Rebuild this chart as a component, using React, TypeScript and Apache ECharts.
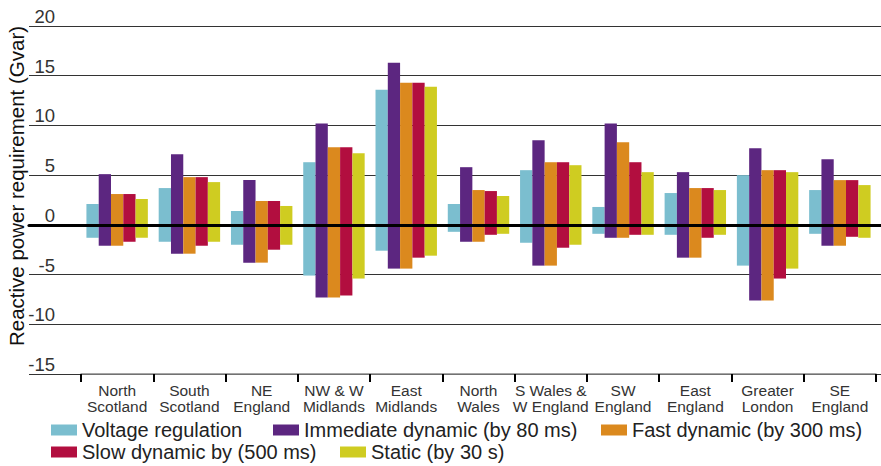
import React, { useEffect, useRef } from "react";
import * as echarts from "echarts";

const regions = [
  "North\nScotland",
  "South\nScotland",
  "NE\nEngland",
  "NW & W\nMidlands",
  "East\nMidlands",
  "North\nWales",
  "S Wales &\nW England",
  "SW\nEngland",
  "East\nEngland",
  "Greater\nLondon",
  "SE\nEngland",
];

const seriesNames = [
  "Voltage regulation",
  "Immediate dynamic (by 80 ms)",
  "Fast dynamic (by 300 ms)",
  "Slow dynamic by (500 ms)",
  "Static (by 30 s)",
];

const seriesColors = ["#7BBECF", "#5C2680", "#DB891E", "#B20E3F", "#CFCC21"];

const voltagePos = [2.1, 3.7, 1.4, 6.3, 13.6, 2.1, 5.5, 1.8, 3.2, 5.0, 3.5];
const voltageNeg = [-1.3, -1.7, -2.0, -5.1, -2.6, -0.7, -1.8, -0.9, -1.0, -4.1, -0.9];
const immediatePos = [5.1, 7.1, 4.5, 10.2, 16.3, 5.8, 8.5, 10.2, 5.3, 7.7, 6.6];
const immediateNeg = [-2.1, -2.9, -3.8, -7.3, -4.4, -1.7, -4.1, -1.3, -3.3, -7.6, -2.1];
const fastPos = [3.1, 4.8, 2.4, 7.8, 14.3, 3.5, 6.3, 8.3, 3.7, 5.5, 4.5];
const fastNeg = [-2.1, -2.9, -3.8, -7.3, -4.4, -1.7, -4.1, -1.3, -3.3, -7.6, -2.1];
const slowPos = [3.1, 4.8, 2.4, 7.8, 14.3, 3.4, 6.3, 6.3, 3.7, 5.5, 4.5];
const slowNeg = [-1.7, -2.1, -2.5, -7.1, -3.3, -1.0, -2.3, -1.0, -1.3, -5.4, -1.2];
const staticPos = [2.6, 4.3, 1.9, 7.2, 13.9, 2.9, 6.0, 5.3, 3.5, 5.3, 4.0];
const staticNeg = [-1.3, -1.7, -2.0, -5.4, -3.1, -0.9, -2.0, -1.0, -1.0, -4.4, -1.3];

const positives = [voltagePos, immediatePos, fastPos, slowPos, staticPos];
const negatives = [voltageNeg, immediateNeg, fastNeg, slowNeg, staticNeg];

const yMin = -15;
const yMax = 20;
const yStep = 5;

const FONT = "'Liberation Sans', Arial, sans-serif";

export default function App() {
  const ref = useRef<HTMLDivElement>(null);

  useEffect(() => {
    if (!ref.current) return;
    const chart = echarts.init(ref.current, null, { renderer: "svg" });

    const series: any[] = [];
    seriesNames.forEach((name, i) => {
      series.push({
        name,
        type: "bar",
        xAxisIndex: 1,
        yAxisIndex: 1,
        stack: "s" + i,
        data: positives[i],
        itemStyle: { color: seriesColors[i] },
        barCategoryGap: "15%",
        barGap: "0%",
      });
      series.push({
        name,
        type: "bar",
        xAxisIndex: 1,
        yAxisIndex: 1,
        stack: "s" + i,
        data: negatives[i],
        itemStyle: { color: seriesColors[i] },
        barCategoryGap: "15%",
        barGap: "0%",
      });
    });

    const legendLeft = [51, 273, 601, 51, 340];
    const legendTop = [420, 420, 420, 442, 442];
    const legends = seriesNames.map((name, i) => ({
      data: [name],
      left: legendLeft[i],
      top: legendTop[i],
      padding: 0,
      icon: "rect",
      itemWidth: 26,
      itemHeight: 11,
      itemGap: 0,
      textStyle: { fontSize: 20, color: "#222", fontFamily: FONT },
      selectedMode: false,
    }));

    chart.setOption({
      animation: false,
      backgroundColor: "#ffffff",
      textStyle: { fontFamily: FONT },
      grid: [
        { left: 29, right: 0, top: 26, bottom: 92 },
        { left: 81, right: 5, top: 26, bottom: 92 },
      ],
      legend: legends,
      xAxis: [
        {
          type: "value",
          gridIndex: 0,
          min: 0,
          max: 1,
          z: 10,
          axisLine: { show: true, onZero: true, lineStyle: { color: "#000", width: 3.2 } },
          axisTick: { show: false },
          axisLabel: { show: false },
          splitLine: { show: false },
        },
        {
          type: "category",
          gridIndex: 1,
          data: regions,
          axisLine: { show: true, onZero: false, lineStyle: { color: "#888", width: 1.5 } },
          axisTick: { show: true, length: 8, lineStyle: { color: "#000", width: 2 } },
          axisLabel: {
            fontSize: 15.5,
            lineHeight: 16,
            color: "#333",
            margin: 8,
            interval: 0,
            fontFamily: FONT,
          },
        },
      ],
      yAxis: [
        {
          type: "value",
          gridIndex: 0,
          min: yMin,
          max: yMax,
          interval: yStep,
          axisLine: { show: false },
          axisTick: { show: false },
          axisLabel: {
            inside: true,
            align: "right",
            verticalAlign: "bottom",
            margin: 26,
            fontSize: 18.5,
            color: "#333",
            fontFamily: FONT,
          },
          splitLine: { show: true, lineStyle: { color: "#333", width: 1.2 } },
        },
        {
          type: "value",
          gridIndex: 1,
          min: yMin,
          max: yMax,
          interval: yStep,
          show: false,
          splitLine: { show: false },
        },
      ],
      graphic: [
        {
          type: "text",
          x: 16,
          y: 186,
          rotation: Math.PI / 2,
          style: {
            text: "Reactive power requirement (Gvar)",
            fontSize: 20.5,
            fontFamily: FONT,
            fill: "#111",
            textAlign: "center",
            textVerticalAlign: "middle",
          },
        },
      ],
      series,
    });

    return () => chart.dispose();
  }, []);

  return (
    <div
      ref={ref}
      style={{ position: "fixed", left: 0, top: 0, width: 881, height: 466 }}
    />
  );
}
